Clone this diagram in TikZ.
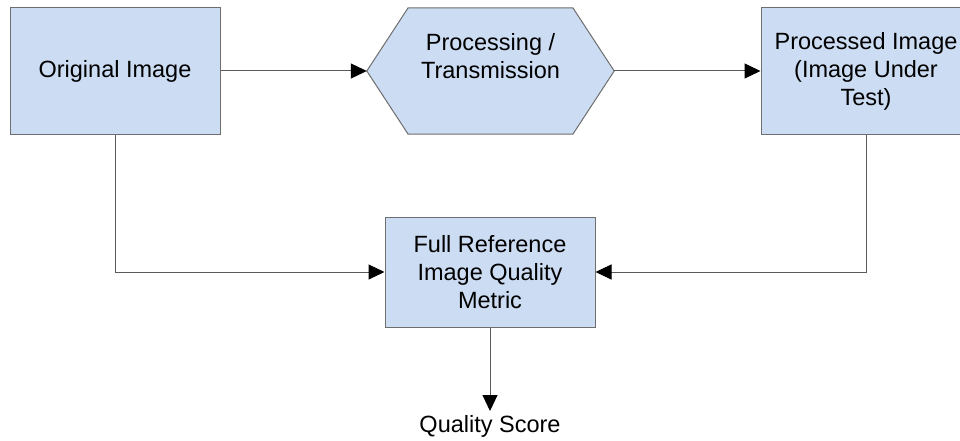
\documentclass[tikz,border=0pt]{standalone}
\usepackage{fontspec}
\setmainfont{Liberation Sans}
\usetikzlibrary{arrows.meta}
\definecolor{boxfill}{HTML}{CCDCF2}
\definecolor{boxline}{HTML}{6E6E6E}
\definecolor{conn}{HTML}{5A5A5A}
\begin{document}
\begin{tikzpicture}[x=1pt,y=1pt,
  txt/.style={font=\fontsize{23.5}{28}\selectfont, align=center, text=black},
  blockbox/.style={draw=boxline, fill=boxfill, line width=1pt, inner sep=0pt, minimum width=210pt},
  conline/.style={draw=conn, line width=1pt, -{Triangle[length=16pt,width=15pt,fill=black,color=black]}}]
\useasboundingbox (0,0) rectangle (960,-441);
\fill[white] (0,0) rectangle (960,-441);
% nodes
\node[blockbox, minimum height=126pt, txt] (orig) at (115,-71) {Original Image};
\node[blockbox, minimum height=126pt, txt] (procd) at (866,-71) {Processed Image\\(Image Under\\Test)};
\node[blockbox, minimum height=110pt, txt] (fr) at (490,-272) {Full Reference\\Image Quality\\Metric};
% hexagon
\node[inner sep=0pt, minimum width=247pt, minimum height=126pt] (proc) at (490.5,-71) {};
\filldraw[draw=boxline, fill=boxfill, line width=1pt]
  (proc.west) -- (408,-8) -- (573,-8) -- (proc.east) -- (573,-134) -- (408,-134) -- cycle;
\node[txt] (proctext) at (490.5,-56) {Processing /\\Transmission};
\node[txt, anchor=center] (qs) at (490,-426) {Quality Score};
\coordinate (qsin) at (490,-411);
% connectors
\draw[conline] (orig.east) -- (proc.west);
\draw[conline] (proc.east) -- (procd.west);
\draw[conline] (orig.south) |- (fr.west);
\draw[conline] (procd.south) |- (fr.east);
\draw[conline] (fr.south) -- (qsin);
\end{tikzpicture}
\end{document}
